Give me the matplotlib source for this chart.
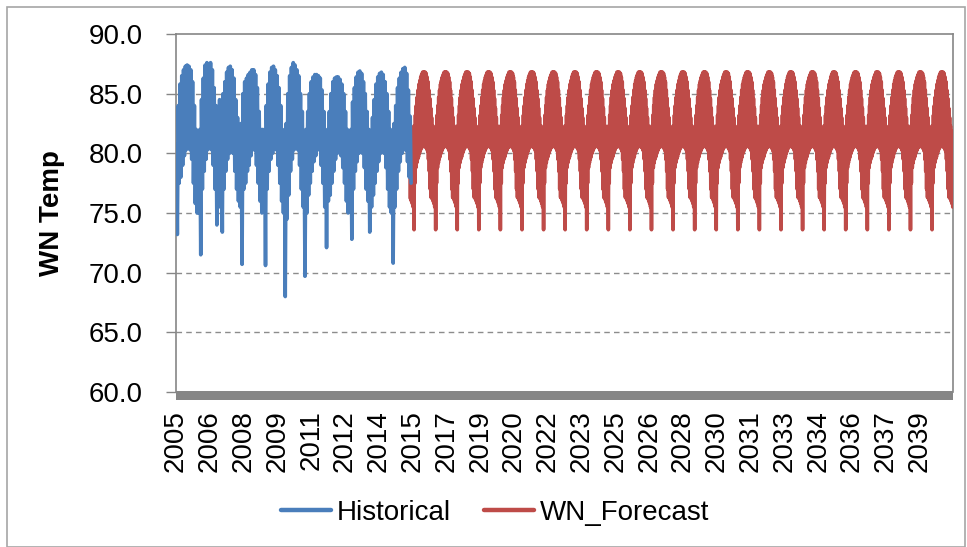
import numpy as np
import matplotlib
matplotlib.use("Agg")
import matplotlib.pyplot as plt
import matplotlib.dates as mdates
from matplotlib.patches import Rectangle

plt.rcParams['font.family'] = ['Liberation Sans', 'DejaVu Sans']
plt.rcParams['path.simplify'] = False

# Monthly high / low of the daily WN temperature, historical record (Jan 2005 - Nov 2015)
hist_high = [
    80.8, 84.0, 85.8, 86.5, 87.0, 87.3, 87.4, 87.3, 87.0, 86.0, 84.0, 82.0,   # 2005
    81.8, 82.0, 84.5, 86.3, 87.4, 87.6, 87.5, 87.6, 87.0, 85.5, 84.0, 83.5,   # 2006
    84.5, 82.5, 85.0, 86.0, 86.8, 87.2, 87.3, 87.0, 86.3, 84.5, 83.0, 82.0,   # 2007
    82.5, 85.0, 86.0, 86.3, 86.6, 86.8, 87.0, 87.0, 86.6, 85.5, 83.5, 82.0,   # 2008
    82.0, 81.8, 84.0, 85.8, 86.8, 87.2, 87.3, 87.0, 86.5, 85.5, 84.0, 82.0,   # 2009
    81.0, 82.5, 85.0, 86.5, 87.2, 87.6, 87.4, 87.0, 86.5, 85.0, 83.5, 81.5,   # 2010
    82.0, 83.5, 85.0, 86.0, 86.4, 86.6, 86.6, 86.5, 86.3, 85.3, 83.5, 81.5,   # 2011
    82.0, 83.5, 85.0, 86.0, 86.3, 86.4, 86.4, 86.2, 85.8, 85.0, 83.5, 82.0,   # 2012
    81.8, 82.0, 84.3, 85.5, 86.4, 86.8, 86.9, 86.7, 86.0, 85.0, 83.5, 82.0,   # 2013
    81.8, 83.0, 84.5, 85.8, 86.4, 86.7, 86.8, 86.6, 86.0, 85.0, 83.5, 82.0,   # 2014
    81.5, 82.5, 84.0, 85.5, 86.3, 86.8, 87.1, 87.2, 86.7, 85.3, 83.1,         # 2015
]
hist_low = [
    73.2, 77.5, 78.0, 79.0, 79.8, 80.3, 80.5, 80.3, 79.5, 77.5, 75.8, 75.0,   # 2005
    75.0, 71.5, 77.0, 78.5, 79.5, 80.3, 80.5, 80.3, 79.0, 77.0, 74.0, 75.5,   # 2006
    76.0, 73.4, 77.0, 78.5, 79.5, 80.0, 80.3, 80.0, 78.5, 77.0, 76.0, 75.5,   # 2007
    70.7, 77.0, 77.5, 78.5, 79.0, 79.8, 80.3, 80.3, 79.0, 77.5, 76.0, 75.0,   # 2008
    75.5, 70.6, 77.0, 78.5, 79.5, 80.0, 80.5, 80.3, 79.0, 77.5, 76.0, 75.0,   # 2009
    68.0, 74.5, 76.5, 78.5, 79.5, 80.3, 80.5, 80.3, 79.0, 77.0, 75.5, 69.7,   # 2010
    75.0, 76.5, 77.5, 78.5, 79.3, 79.8, 80.3, 80.3, 79.0, 77.5, 75.5, 72.1,   # 2011
    76.0, 76.5, 77.5, 78.5, 79.5, 80.0, 80.3, 79.8, 78.8, 77.5, 76.0, 75.0,   # 2012
    75.5, 72.8, 77.0, 78.5, 79.3, 80.0, 80.3, 80.0, 78.8, 77.0, 76.0, 73.4,   # 2013
    75.5, 76.5, 77.5, 78.5, 79.3, 80.0, 80.3, 80.0, 78.8, 77.0, 75.5, 75.0,   # 2014
    70.8, 75.5, 77.0, 78.5, 79.3, 80.0, 80.3, 80.3, 79.3, 78.0, 77.5,         # 2015
]

# Weather-normal year used for every forecast year: half-month high / low, Jan..Dec
wn_high = [81.8, 82.3, 83.2, 84.0, 84.7, 85.3, 85.8, 86.1, 86.4, 86.6, 86.8, 86.8,
           86.8, 86.8, 86.7, 86.4, 86.0, 85.3, 84.6, 83.8, 83.0, 82.3, 81.9, 81.8]
wn_low = [73.6, 77.5, 78.8, 79.2, 79.5, 79.7, 80.0, 80.2, 80.4, 80.5, 80.6, 80.6,
          80.6, 80.5, 80.4, 80.2, 79.5, 78.5, 77.0, 76.3, 76.2, 76.0, 75.8, 75.5]

hist_start, hist_end = '2005-01', '2015-12'
fc_start, fc_end = '2015-11', '2041-01'

# Year labels placed every 572 days along the date axis
label_step_days = 572
n_labels = 23

blue = '#4A7EBB'
red = '#BE4B48'
grey = '#868686'


def zigzag(period_starts, highs, lows, span_days):
    """Alternate each period's high and low so the dense daily swing fills in."""
    days = period_starts.astype('datetime64[D]')
    q = span_days / 4.0
    x_hi = mdates.date2num(days) + q
    x_lo = mdates.date2num(days) + 3 * q
    xs = np.empty(2 * len(days))
    ys = np.empty(2 * len(days))
    xs[0::2], xs[1::2] = x_hi, x_lo
    ys[0::2], ys[1::2] = highs, lows
    return xs, ys


hist_months = np.arange(hist_start, hist_end, dtype='datetime64[M]')
hx, hy = zigzag(hist_months, np.array(hist_high), np.array(hist_low), 30.4)

fc_months = np.arange(fc_start, fc_end, dtype='datetime64[M]')
fc_days = fc_months.astype('datetime64[D]')
fc_halves = np.sort(np.concatenate([fc_days, fc_days + 15]))
half_index = (np.repeat(fc_months.astype(int) % 12, 2) * 2
              + np.tile([0, 1], len(fc_months)))
fx, fy = zigzag(fc_halves, np.array(wn_high)[half_index],
                np.array(wn_low)[half_index], 15.2)

W, H = 967, 547
fig = plt.figure(figsize=(W / 100, H / 100), dpi=100)
ax = fig.add_axes([176 / W, 1 - 392 / H, 777 / W, 358 / H])

ax.plot(fx, fy, color=red, lw=2.6, solid_joinstyle='round', solid_capstyle='round',
        label='WN_Forecast', zorder=3)
ax.plot(hx, hy, color=blue, lw=2.6, solid_joinstyle='round', solid_capstyle='round',
        label='Historical', zorder=4)

ax.set_ylim(60, 90)
ax.set_yticks(np.arange(60, 90.1, 5))
ax.yaxis.set_major_formatter(matplotlib.ticker.FormatStrFormatter('%.1f'))
for yv in range(65, 90, 5):
    ax.axhline(yv, color='#8C8C8C', lw=1.0, ls=(0, (4, 3)), zorder=1)

x0 = np.datetime64('2005-01-01')
ax.set_xlim(mdates.date2num(x0), mdates.date2num(np.datetime64('2041-01-01')))
tick_days = [x0 + np.timedelta64(i * label_step_days, 'D') for i in range(n_labels)]
ax.set_xticks([mdates.date2num(t) for t in tick_days])
ax.set_xticklabels([str(t.astype('datetime64[Y]')) for t in tick_days], rotation=90)

ax.tick_params(axis='x', length=0, pad=13, labelsize=20)
ax.tick_params(axis='y', length=7, width=1.0, color=grey, pad=17, labelsize=20,
               direction='out')

for side in ('left', 'right', 'top'):
    ax.spines[side].set_color(grey)
    ax.spines[side].set_linewidth(1.2)
ax.spines['bottom'].set_visible(False)
ax.add_patch(Rectangle((0, -8 / 358), 1, 9 / 358, transform=ax.transAxes,
                       clip_on=False, facecolor=grey, edgecolor='none', zorder=5))

ax.set_ylabel('WN Temp', fontsize=20, fontweight='bold')
ax.yaxis.set_label_coords(-0.143, 0.5)

handles, labels = ax.get_legend_handles_labels()
leg = fig.legend(handles[::-1], labels[::-1], loc='center', ncol=2,
                 bbox_to_anchor=(495 / W, 1 - 513 / H), frameon=False,
                 fontsize=20, handlelength=1.8, handletextpad=0.2,
                 columnspacing=1.2)
for line in leg.get_lines():
    line.set_linewidth(3.2)
    line.set_solid_capstyle('round')

fig.patches.append(Rectangle((7 / W, 0), 958 / W, 1 - 7 / H, transform=fig.transFigure,
                             fill=False, edgecolor='#A6A6A6', lw=1.2))

fig.savefig('out.png', dpi=100)
